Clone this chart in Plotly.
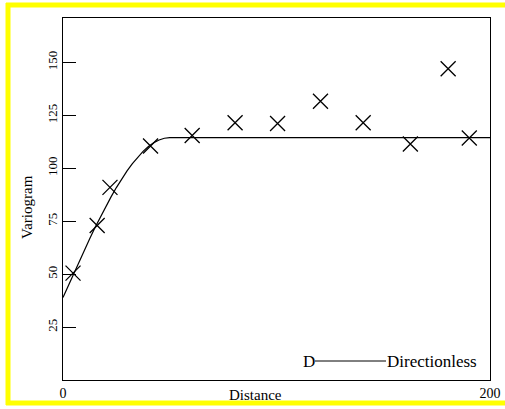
import plotly.graph_objects as go

# Empirical variogram points
dist = [4.7, 16.0, 22.0, 41.0, 60.5, 80.6, 100.5, 120.6, 140.6, 162.7, 180.4, 190.3]
gamma = [50.5, 73.0, 91.0, 110.5, 115.5, 121.5, 121.2, 131.7, 121.5, 111.5, 147.0, 114.3]

# Fitted model curve
model_x = [0, 2.5, 5, 7.5, 10, 12.5, 15, 17.5, 20, 22.5, 25, 27.5, 30, 32.5, 35, 37.5, 40,
           42.5, 45, 47.5, 50, 200]
model_y = [39.0, 44.7, 50.3, 55.8, 61.3, 66.7, 72.0, 77.0, 81.9, 86.5, 90.9, 95.0, 98.8,
           102.2, 105.3, 108.0, 110.3, 112.1, 113.4, 114.2, 114.5, 114.5]

y_ticks = [25, 50, 75, 100, 125, 150]
x_ticks = [0, 200]

FONT = "Liberation Serif"
W, H = 505, 409
L, R, T, B = 63, 490, 18, 380


def px(xp):
    return (xp - L) / (R - L)


def py(yp):
    return (B - yp) / (B - T)


fig = go.Figure()
fig.add_trace(go.Scatter(x=model_x, y=model_y, mode="lines", line=dict(color="black", width=1.2),
                         showlegend=False, hoverinfo="skip"))
fig.add_trace(go.Scatter(x=dist, y=gamma, mode="markers",
                         marker=dict(symbol="x-thin-open", size=15, color="black",
                                     line=dict(color="black", width=1.3)),
                         showlegend=False))

fig.update_layout(
    width=W, height=H,
    margin=dict(l=L, r=W - R, t=T, b=H - B),
    paper_bgcolor="white", plot_bgcolor="white",
    font=dict(family=FONT, color="black", size=13),
    xaxis=dict(range=[0, 200], tickvals=x_ticks, ticktext=[str(v) for v in x_ticks],
               ticks="", showgrid=False, zeroline=False, showline=True, mirror=True, automargin=False,
               linecolor="black", linewidth=1.2, tickfont=dict(size=14, family=FONT)),
    yaxis=dict(range=[0, 171], tickvals=y_ticks, ticks="inside", ticklen=13, tickcolor="black",
               tickangle=-90, showgrid=False, zeroline=False, showline=True, mirror=True, automargin=False,
               linecolor="black", linewidth=1.2, tickfont=dict(size=13, family=FONT)),
)

ann = [
    dict(text="Distance", x=px(255), y=py(395), font=dict(size=15)),
    dict(text="Variogram", x=px(27), y=py(207), textangle=-90, font=dict(size=15)),
    dict(text="D", x=px(309), y=py(361), font=dict(size=17)),
    dict(text="Directionless", x=px(385), y=py(361), xanchor="left", font=dict(size=17)),
]
for a in ann:
    a.setdefault("xanchor", "center")
    fig.add_annotation(xref="paper", yref="paper", showarrow=False, yanchor="middle", **a)

fig.add_shape(type="line", xref="paper", yref="paper", x0=px(315), x1=px(386), y0=py(361), y1=py(361),
              line=dict(color="black", width=1))
# yellow frame: top, left, bottom edges, kept inside the canvas
yel = dict(color="#ffff00", width=5)
fig.add_shape(type="line", xref="paper", yref="paper", x0=px(6), x1=px(505), y0=py(5), y1=py(5), line=yel)
fig.add_shape(type="line", xref="paper", yref="paper", x0=px(6), x1=px(505), y0=py(403), y1=py(403), line=yel)
fig.add_shape(type="line", xref="paper", yref="paper", x0=px(8), x1=px(8), y0=py(405), y1=py(3), line=yel)

fig.write_html("out.html")
